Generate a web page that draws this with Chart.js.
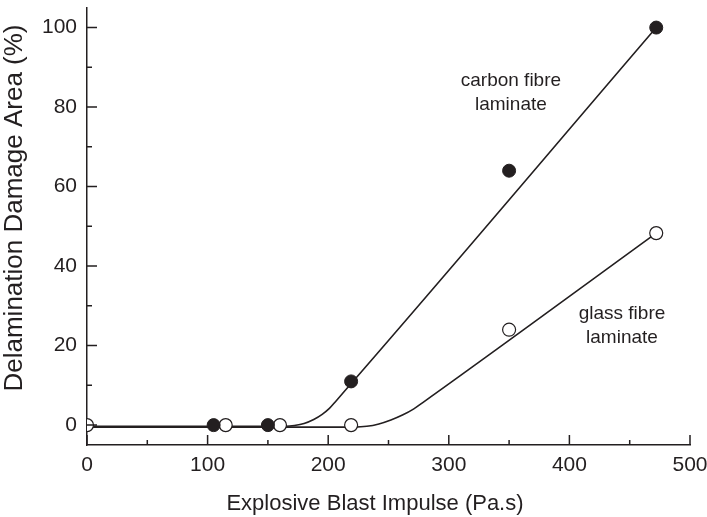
<!DOCTYPE html>
<html>
<head>
<meta charset="utf-8" />
<title>Delamination damage</title>
<script src="https://cdn.jsdelivr.net/npm/chart.js"></script>
<style>
  body { margin: 0; background: #fff; }
  #wrap { width: 707px; height: 517px; }
</style>
</head>
<body>
<div id="wrap"><canvas id="myChart" width="707" height="517"></canvas></div>
<script>
// measured points
const carbonX = [105, 150, 219, 350, 472];
const carbonY = [0, 0, 11, 64, 100];
const glassX = [0, 115, 160, 219, 350, 472];
const glassY = [0, 0, 0, 0, 24, 48.3];

// fitted curves
const carbonFitX = [0, 165, 172, 180, 188, 195, 201, 206, 472];
const carbonFitY = [-0.3, -0.3, -0.1, 0.4, 1.4, 2.7, 4.2, 5.9, 100];
const glassFitX = [0, 222, 232, 242, 252, 262, 271, 279, 472];
const glassFitY = [-0.5, -0.5, -0.3, 0.3, 1.3, 2.6, 4.1, 5.8, 48.3];

const xTicks = [0, 100, 200, 300, 400, 500];
const xMinor = [50, 150, 250, 350, 450];
const yTicks = [0, 20, 40, 60, 80, 100];
const yMinor = [10, 30, 50, 70, 90];

const ink = '#231f20';
const font = "'Liberation Sans', Arial, sans-serif";

function pts(xs, ys) {
  return xs.map((x, i) => ({ x: x, y: ys[i] }));
}

// inward tick marks, axis titles and curve labels
const extras = {
  id: 'extras',
  afterDatasetsDraw(chart) {
    const ctx = chart.ctx;
    const xs = chart.scales.x, ys = chart.scales.y;
    const a = chart.chartArea;
    ctx.save();
    ctx.strokeStyle = ink;
    ctx.lineWidth = 1.5;
    ctx.beginPath();
    xTicks.forEach(v => { const p = xs.getPixelForValue(v); ctx.moveTo(p, a.bottom); ctx.lineTo(p, a.bottom - 10); });
    xMinor.forEach(v => { const p = xs.getPixelForValue(v); ctx.moveTo(p, a.bottom); ctx.lineTo(p, a.bottom - 5); });
    yTicks.forEach(v => { const p = ys.getPixelForValue(v); ctx.moveTo(a.left, p); ctx.lineTo(a.left + 10, p); });
    yMinor.forEach(v => { const p = ys.getPixelForValue(v); ctx.moveTo(a.left, p); ctx.lineTo(a.left + 5, p); });
    ctx.stroke();

    ctx.fillStyle = ink;
    ctx.textAlign = 'center';
    ctx.textBaseline = 'middle';
    ctx.font = '22px ' + font;
    ctx.fillText('Explosive Blast Impulse (Pa.s)', 375, 504);
    ctx.save();
    ctx.translate(15, 208);
    ctx.rotate(-Math.PI / 2);
    ctx.font = '26px ' + font;
    ctx.fillText('Delamination Damage Area (%)', 0, 0);
    ctx.restore();

    ctx.font = '19px ' + font;
    const cx = xs.getPixelForValue(351.5), cy = ys.getPixelForValue(86.7);
    ctx.fillText('carbon fibre', cx, cy);
    ctx.fillText('laminate', cx, cy + 24);
    const gx = xs.getPixelForValue(443.6), gy = ys.getPixelForValue(28);
    ctx.fillText('glass fibre', gx, gy);
    ctx.fillText('laminate', gx, gy + 24);
    ctx.restore();
  }
};

new Chart(document.getElementById('myChart'), {
  type: 'scatter',
  data: {
    datasets: [
      {
        label: 'carbon fit', type: 'line', data: pts(carbonFitX, carbonFitY),
        borderColor: ink, borderWidth: 1.6, pointRadius: 0, fill: false,
        cubicInterpolationMode: 'monotone', order: 3
      },
      {
        label: 'glass fit', type: 'line', data: pts(glassFitX, glassFitY),
        borderColor: ink, borderWidth: 1.6, pointRadius: 0, fill: false,
        cubicInterpolationMode: 'monotone', order: 3
      },
      {
        label: 'glass fibre laminate', data: pts(glassX, glassY),
        pointRadius: 6.5, pointBackgroundColor: '#fff', pointBorderColor: ink,
        pointBorderWidth: 1.2, showLine: false, order: 1
      },
      {
        label: 'carbon fibre laminate', data: pts(carbonX, carbonY),
        pointRadius: 6.5, pointBackgroundColor: ink, pointBorderColor: ink,
        pointBorderWidth: 1, showLine: false, order: 0
      }
    ]
  },
  options: {
    responsive: false,
    animation: false,
    layout: { padding: { top: 5, right: 17, left: 0, bottom: 0 } },
    plugins: { legend: { display: false }, tooltip: { enabled: false } },
    scales: {
      x: {
        type: 'linear', min: 0, max: 500,
        afterBuildTicks: s => { s.ticks = xTicks.map(v => ({ value: v })); },
        afterFit: s => { s.height = 72; s.paddingLeft = 0; s.paddingRight = 0; },
        grid: { display: true, drawOnChartArea: false, drawTicks: false, color: 'rgba(0,0,0,0)' },
        border: { display: true, color: ink, width: 1.5 },
        ticks: { color: ink, padding: 8, maxRotation: 0, font: { family: font, size: 21 } },
        title: { display: false }
      },
      y: {
        type: 'linear', min: -5, max: 105,
        afterBuildTicks: s => { s.ticks = yTicks.map(v => ({ value: v })); },
        afterFit: s => { s.width = 87; s.paddingTop = 0; s.paddingBottom = 0; },
        grid: { display: true, drawOnChartArea: false, drawTicks: false, color: 'rgba(0,0,0,0)' },
        border: { display: true, color: ink, width: 1.5 },
        ticks: { color: ink, padding: 10, font: { family: font, size: 21 } },
        title: { display: false }
      }
    }
  },
  plugins: [extras]
});
</script>
</body>
</html>
